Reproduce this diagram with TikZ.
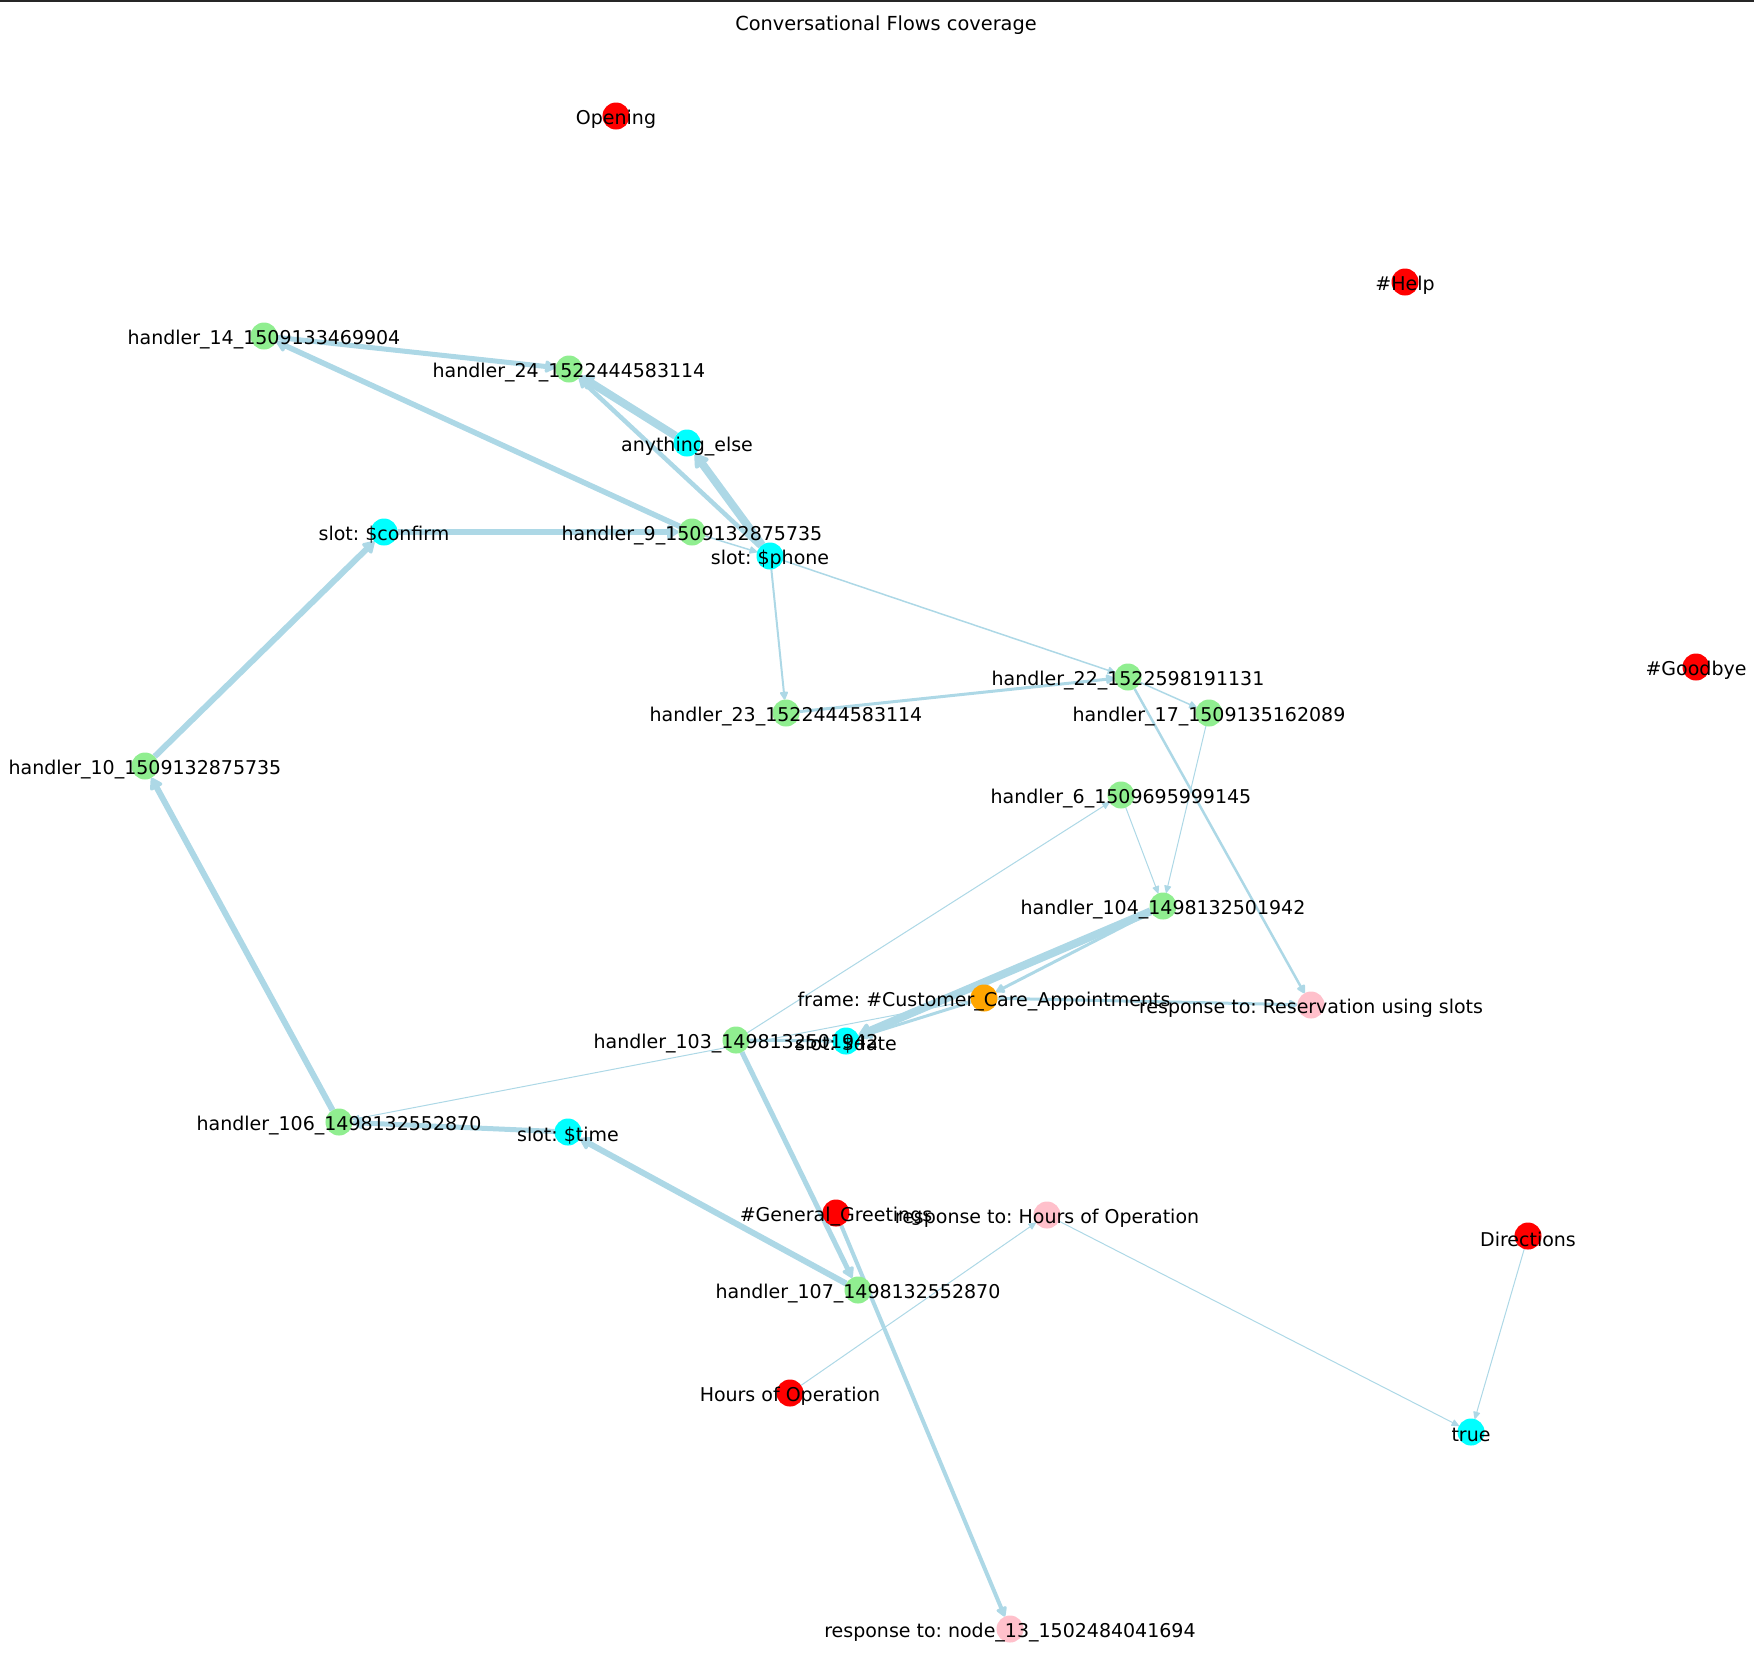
\documentclass[tikz,border=0pt]{standalone}
\usepackage{fontspec}
\setmainfont{DejaVu Sans}
\usepackage{xcolor}
\usepackage{tikz}
\usetikzlibrary{arrows.meta}
\definecolor{flowgreen}{HTML}{90EE90}
\definecolor{flowcyan}{HTML}{00FFFF}
\definecolor{flowred}{HTML}{FF0000}
\definecolor{floworange}{HTML}{FFA500}
\definecolor{flowpink}{HTML}{FFC0CB}
\definecolor{flowedge}{HTML}{ADD8E6}
\definecolor{flowrule}{HTML}{262626}
\pgfdeclarelayer{edges}
\pgfsetlayers{edges,main}
\frenchspacing

\begin{document}
\begin{tikzpicture}[x=0.01cm,y=-0.01cm,font=\fontsize{5.4}{6.4}\selectfont,
  dot/.style={circle,inner sep=0pt,outer sep=0pt,minimum size=0.27cm},
  lab/.style={inner sep=0pt,text=black,yshift=-0.9pt},
  link/.style={draw=flowedge,-{Triangle[length=2pt 1,width=1.6pt 1.6,round]}}]
  \useasboundingbox (0,0) rectangle (1754,1672);
  \fill[flowrule] (0,0) rectangle (1754,2);
  \node[lab,font=\fontsize{5.5}{6.5}\selectfont] (title) at (886,22) {Conversational Flows coverage};
  \foreach \nm/\xx/\yy/\col in {open/616/116/flowred,help/1405/282/flowred,bye/1696/667/flowred,
      h14/264/336/flowgreen,h24/569/369/flowgreen,anyelse/687/443/flowcyan,
      confirm/384/532/flowcyan,h9/692/532/flowgreen,phone/770/556/flowcyan,
      h22/1128/677/flowgreen,h23/786/713/flowgreen,h17/1209/713/flowgreen,
      h10/145/766/flowgreen,h6/1121/795/flowgreen,h104/1163/906/flowgreen,
      frame/984/998/floworange,resv/1311/1005/flowpink,h103/736/1040/flowgreen,
      date/846/1041/flowcyan,h106/339/1122/flowgreen,time/568/1132/flowcyan,
      greet/836/1213/flowred,resphours/1047/1215/flowpink,directions/1528/1236/flowred,
      h107/858/1290/flowgreen,hours/790/1393/flowred,true/1471/1432/flowcyan,
      node13/1010/1629/flowpink}{
    \node[dot,fill=\col] (\nm) at (\xx,\yy) {};
  }
  \foreach \nm/\txt in {open/Opening,help/\#Help,bye/\#Goodbye,
      h14/handler\_14\_1509133469904,h24/handler\_24\_1522444583114,anyelse/anything\_else,
      confirm/slot: \$confirm,h9/handler\_9\_1509132875735,phone/slot: \$phone,
      h22/handler\_22\_1522598191131,h23/handler\_23\_1522444583114,h17/handler\_17\_1509135162089,
      h10/handler\_10\_1509132875735,h6/handler\_6\_1509695999145,h104/handler\_104\_1498132501942,
      frame/frame: \#Customer\_Care\_Appointments,resv/response to: Reservation using slots,
      h103/handler\_103\_1498132501942,date/slot: \$date,h106/handler\_106\_1498132552870,
      time/slot: \$time,greet/\#General\_Greetings,resphours/response to: Hours of Operation,
      directions/Directions,h107/handler\_107\_1498132552870,hours/Hours of Operation,
      true/true,node13/response to: node\_13\_1502484041694}{
    \node[lab] (\nm-t) at (\nm) {\txt};
  }
  \begin{pgfonlayer}{edges}
    \foreach \a/\b/\w in {h14/h24/5,h9/h14/5.5,anyelse/h24/8,phone/anyelse/8,phone/h24/4.5,
        confirm/h9/6,h10/confirm/6,h106/h10/6,time/h106/5,h107/time/6,h103/h107/5,
        greet/node13/4,h104/date/8,h104/frame/3,frame/date/3,frame/resv/3,frame/h106/1,
        h103/date/3,h103/h6/1,h9/phone/1.5,phone/h22/1.5,phone/h23/2,h23/h22/3,
        h22/h17/1.5,h17/h104/1,h6/h104/1,h22/resv/2.5,hours/resphours/1,
        resphours/true/1,directions/true/1}{
      \draw[link,line width=\w*0.2845pt] (\a) -- (\b);
    }
  \end{pgfonlayer}
\end{tikzpicture}
\end{document}
